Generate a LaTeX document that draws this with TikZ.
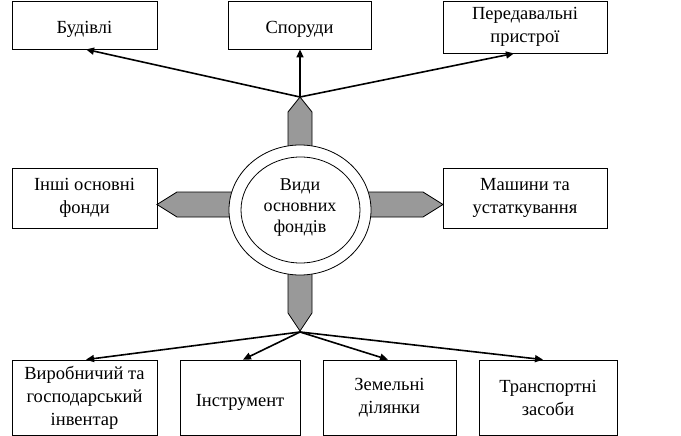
\documentclass[tikz,border=0pt]{standalone}
\usepackage{fontspec}
\setmainfont{Liberation Serif}
\usetikzlibrary{arrows.meta}
\definecolor{fatgray}{RGB}{153,153,153}
\begin{document}
\begin{tikzpicture}[x=1pt,y=-1pt,
  box/.style={draw, line width=0.8pt, align=center, inner sep=0pt,
    font=\fontsize{18.5}{23}\selectfont,
    execute at begin node={\rule{0pt}{21pt}}},
  conn/.style={line width=1.6pt, -{Triangle[length=8pt,width=7pt]}},
  fat/.style={draw, line width=0.8pt, fill=fatgray},
  ring/.style={draw, line width=0.8pt, fill=white}]
\useasboundingbox (0,0) rectangle (681,436);

% top boxes
\node[box, minimum width=145pt, minimum height=48pt] (bud) at (84.5,25) {Будівлі};
\node[box, minimum width=143pt, minimum height=48pt] (spor) at (299.5,25) {Споруди};
\node[box, minimum width=164pt, minimum height=52pt] (pered) at (525,27) {Передавальні\\пристрої};
% middle boxes
\node[box, minimum width=145pt, minimum height=60pt] (inshi) at (84.5,198) {Інші основні\\фонди};
\node[box, minimum width=164pt, minimum height=60pt] (mash) at (525,198) {Машини та\\устаткування};
% bottom boxes
\node[box, minimum width=145pt, minimum height=75pt] (vyr) at (84.5,397.5) {Виробничий та\\господарський\\інвентар};
\node[box, minimum width=120pt, minimum height=75pt] (instr) at (240,397.5) {Інструмент};
\node[box, minimum width=133pt, minimum height=75pt] (zem) at (389.5,397.5) {Земельні\\ділянки};
\node[box, minimum width=138pt, minimum height=75pt] (trans) at (548,397.5) {Транспортні\\засоби};

% fat arrows
\draw[fat] (288,160) -- (288,112) -- (300,97) -- (312,112) -- (312,160) -- cycle;
\draw[fat] (288,260) -- (288,313) -- (300,331) -- (312,313) -- (312,260) -- cycle;
\draw[fat] (245,192) -- (177,192) -- (157,204.5) -- (177,217) -- (245,217) -- cycle;
\draw[fat] (355,192) -- (423,192) -- (443,204.5) -- (423,217) -- (355,217) -- cycle;

% centre
\draw[ring] (300,210) ellipse [x radius=71pt, y radius=65pt];
\draw[line width=0.8pt] (300.5,210) ellipse [x radius=59.5pt, y radius=53pt];
\node[align=center, inner sep=0pt, font=\fontsize{18}{21}\selectfont] (centre) at (300,208) {Види\\основних\\фондів};

% connectors
\coordinate (tc) at (300,97);
\coordinate (bc) at (300,332);
\draw[conn] (tc) -- ([xshift=1.5pt]bud.south);
\draw[conn] (tc) -- ([xshift=0.5pt]spor.south);
\draw[conn] (tc) -- ([xshift=-11pt]pered.south);
\draw[conn] (bc) -- ([xshift=1.5pt]vyr.north);
\draw[conn] (bc) -- ([xshift=3pt]instr.north);
\draw[conn] (bc) -- ([xshift=-1.5pt]zem.north);
\draw[conn] (bc) -- ([xshift=-5pt]trans.north);
\end{tikzpicture}
\end{document}
